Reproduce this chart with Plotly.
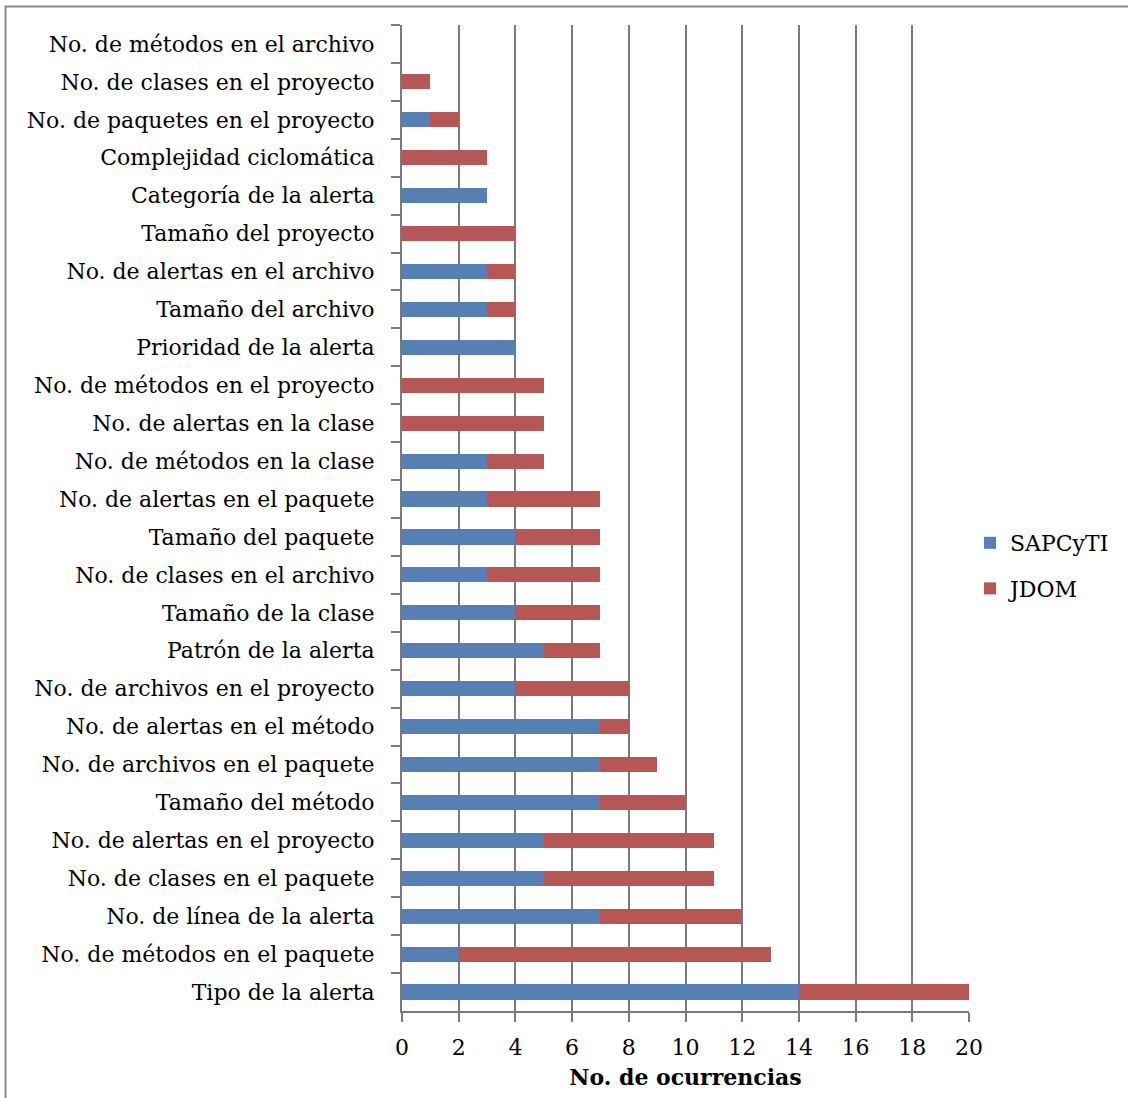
import plotly.graph_objects as go

# Factors listed top to bottom as they appear on the chart
factores = [
    "No. de métodos en el archivo",
    "No. de clases en el proyecto",
    "No. de paquetes en el proyecto",
    "Complejidad ciclomática",
    "Categoría de la alerta",
    "Tamaño del proyecto",
    "No. de alertas en el archivo",
    "Tamaño del archivo",
    "Prioridad de la alerta",
    "No. de métodos en el proyecto",
    "No. de alertas en la clase",
    "No. de métodos en la clase",
    "No. de alertas en el paquete",
    "Tamaño del paquete",
    "No. de clases en el archivo",
    "Tamaño de la clase",
    "Patrón de la alerta",
    "No. de archivos en el proyecto",
    "No. de alertas en el método",
    "No. de archivos en el paquete",
    "Tamaño del método",
    "No. de alertas en el proyecto",
    "No. de clases en el paquete",
    "No. de línea de la alerta",
    "No. de métodos en el paquete",
    "Tipo de la alerta",
]
sapcyti = [0, 0, 1, 0, 3, 0, 3, 3, 4, 0, 0, 3, 3, 4, 3, 4, 5, 4, 7, 7, 7, 5, 5, 7, 2, 14]
jdom = [0, 1, 1, 3, 0, 4, 1, 1, 0, 5, 5, 2, 4, 3, 4, 3, 2, 4, 1, 2, 3, 6, 6, 5, 11, 6]
x_ticks = list(range(0, 21, 2))

FONT = "DejaVu Serif"
FS = 22
W, H = 1128, 1098
L, R, T, B = 402, 969, 25, 1011  # plot area in pixels

fig = go.Figure()
fig.add_trace(go.Bar(
    y=factores, x=sapcyti, name="SAPCyTI", orientation="h",
    legendgroup="a",
    marker=dict(color="#5680B3", line=dict(width=0)),
))
fig.add_trace(go.Bar(
    y=factores, x=jdom, name="JDOM", orientation="h",
    legendgroup="b",
    marker=dict(color="#B65755", line=dict(width=0)),
))

def px_x(p):
    return (p - L) / (R - L)

def px_y(p):
    return (B - p) / (B - T)

# outer frame around the chart
fig.add_shape(type="rect", xref="paper", yref="paper",
              x0=px_x(5.5), x1=px_x(1140), y0=px_y(1110), y1=px_y(6.5),
              line=dict(color="#8a8a8a", width=2), layer="below")

fig.update_layout(
    barmode="stack",
    bargap=0.6,
    width=W, height=H,
    margin=dict(l=L, r=W - R, t=T, b=H - B),
    paper_bgcolor="white",
    plot_bgcolor="white",
    font=dict(family=FONT, size=FS, color="black"),
    showlegend=True,
    legend=dict(
        x=px_x(970), y=px_y(566), xanchor="left", yanchor="middle",
        font=dict(family=FONT, size=FS),
        tracegroupgap=14,
        bgcolor="rgba(0,0,0,0)",
    ),
    xaxis=dict(
        range=[0, 20], tickvals=x_ticks, ticktext=[str(v) for v in x_ticks],
        showgrid=True, gridcolor="#7a7a7a", gridwidth=2,
        showline=True, linecolor="#7a7a7a", linewidth=2,
        ticks="outside", ticklen=9, tickcolor="#7a7a7a", tickwidth=2,
        zeroline=False,
        ticklabelstandoff=7,
        tickfont=dict(family=FONT, size=FS),
        title=dict(text="<b>No. de ocurrencias</b>", font=dict(family=FONT, size=FS), standoff=10),
    ),
    yaxis=dict(
        autorange="reversed",
        categoryorder="array", categoryarray=factores,
        showline=True, linecolor="#7a7a7a", linewidth=2,
        ticks="outside", ticklen=9, tickcolor="#7a7a7a", tickwidth=2,
        tickson="boundaries",
        showgrid=False,
        ticklabelstandoff=21,
        tickfont=dict(family=FONT, size=FS),
    ),
)

fig.write_html("out.html")
